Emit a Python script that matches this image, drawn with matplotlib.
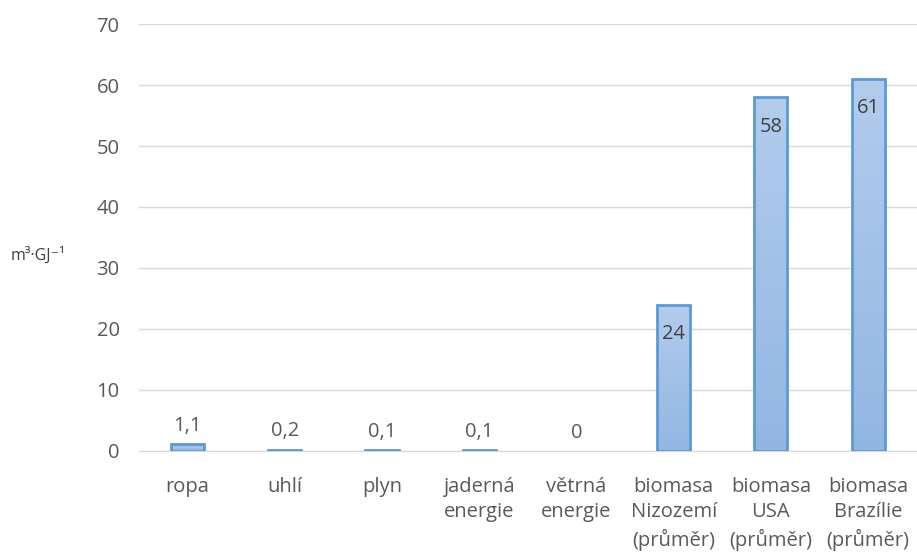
import matplotlib
matplotlib.use("Agg")
import matplotlib.pyplot as plt
import numpy as np
from matplotlib.colors import LinearSegmentedColormap

plt.rcParams['font.family'] = ['Open Sans', 'DejaVu Sans']

categories = ["ropa", "uhlí", "plyn", "jaderná\nenergie", "větrná\nenergie",
              "biomasa\nNizozemí\n(průměr)", "biomasa\nUSA\n(průměr)",
              "biomasa\nBrazílie\n(průměr)"]
values = [1.1, 0.2, 0.1, 0.1, 0, 24, 58, 61]
value_labels = ["1,1", "0,2", "0,1", "0,1", "0", "24", "58", "61"]
yticks = [0, 10, 20, 30, 40, 50, 60, 70]

text_color = "#595959"
fs = 14.5
fig = plt.figure(figsize=(9.17, 5.52), dpi=100)
ax = fig.add_axes([0.1516, 0.183, 0.848, 0.7735])

x = np.arange(len(categories))
width = 0.34

# bars with a soft vertical gradient fill
grad = np.linspace(0, 1, 256).reshape(-1, 1)
cmap = LinearSegmentedColormap.from_list("barfill", ["#92b6e3", "#b3ccec"])

bars = ax.bar(x, values, width=width, color="#a3c2e8", edgecolor="#5b9bd5",
              linewidth=2, zorder=3)
for b in bars:
    h = b.get_height()
    if h <= 0:
        b.set_linewidth(0)
        continue
    x0 = b.get_x()
    im = ax.imshow(grad, extent=[x0, x0 + width, 0, h], origin="lower",
                   aspect="auto", cmap=cmap, zorder=3.5)
    im.set_clip_path(b)
    b.set_facecolor("none")
    b.set_zorder(4)

for xi, v, lab in zip(x, values, value_labels):
    if v > 10:
        ax.annotate(lab, (xi, v), xytext=(0, -14), textcoords="offset points",
                    ha="center", va="top", fontsize=fs, color="#404040", zorder=5)
    else:
        ax.annotate(lab, (xi, v), xytext=(0, 6), textcoords="offset points",
                    ha="center", va="bottom", fontsize=fs, color=text_color, zorder=5)

ax.set_xlim(-0.5, len(categories) - 0.5)
ax.set_ylim(0, 70)
ax.set_yticks(yticks)
ax.set_xticks(x)
ax.set_xticklabels(categories, fontsize=fs, color=text_color, linespacing=1.37)
ax.tick_params(axis="y", labelsize=fs, labelcolor=text_color, length=0, pad=14)
ax.tick_params(axis="x", length=0, pad=18.5)
ax.grid(axis="y", color="#d9d9d9", linewidth=1, zorder=0)
ax.set_axisbelow(True)
for s in ["left", "right", "top"]:
    ax.spines[s].set_visible(False)
ax.spines["bottom"].set_color("#d9d9d9")

fig.text(0.012, 0.538, "m³·GJ⁻¹", fontsize=11.5, color="#404040",
         ha="left", va="center")

fig.savefig("out.png", dpi=100)
